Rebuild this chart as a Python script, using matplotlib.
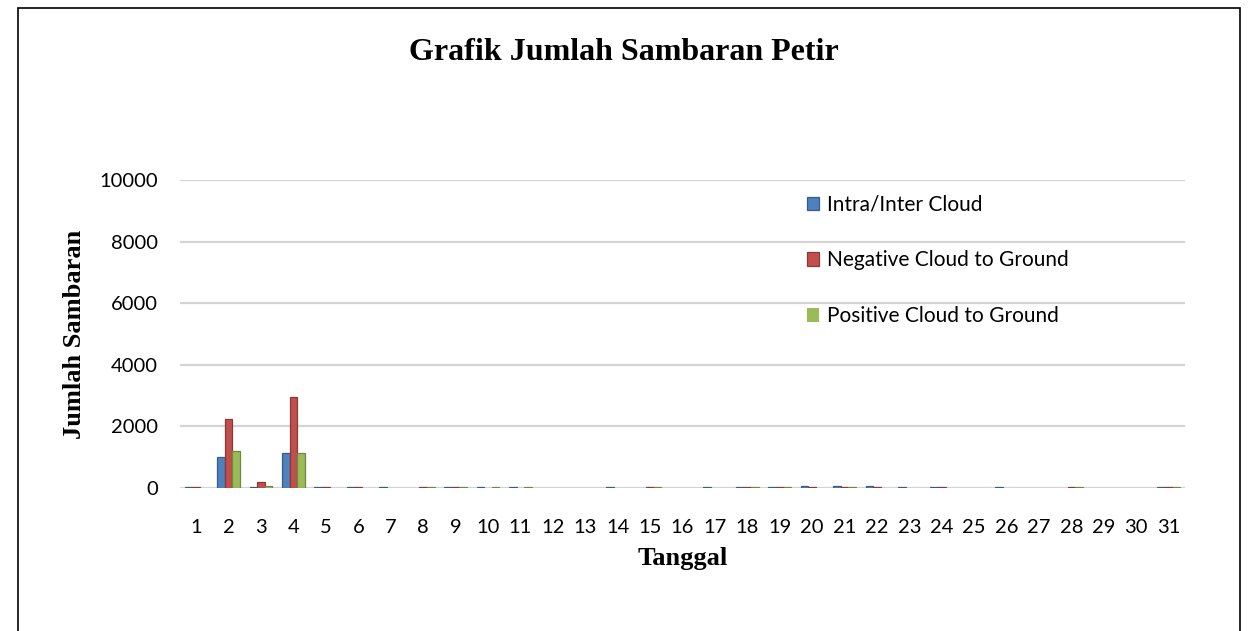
import numpy as np
import matplotlib.pyplot as plt
from matplotlib.patches import Rectangle

days = [str(d) for d in range(1, 32)]

intra = [30, 1000, 40, 1150, 30, 30, 30, 0, 40, 30, 30, 0, 0, 30, 0, 0,
         30, 30, 30, 50, 60, 50, 30, 30, 0, 30, 0, 0, 0, 0, 30]
negative = [30, 2240, 200, 2960, 30, 30, 0, 30, 30, 0, 0, 0, 0, 0, 30, 0,
            0, 30, 30, 40, 40, 30, 0, 30, 0, 0, 0, 30, 0, 0, 30]
positive = [0, 1200, 60, 1150, 0, 0, 0, 30, 30, 20, 20, 0, 0, 0, 20, 0,
            0, 30, 30, 0, 30, 0, 0, 0, 0, 0, 0, 30, 0, 0, 30]

series = [
    ("Intra/Inter Cloud", intra, "#4F81BD", "#385D8A"),
    ("Negative Cloud to Ground", negative, "#C0504D", "#8C3836"),
    ("Positive Cloud to Ground", positive, "#9BBB59", "#71893F"),
]

fig = plt.figure(figsize=(12.48, 6.31), dpi=100)
ax = fig.add_axes([0.1442, 0.2266, 0.8053, 0.4881])

x = np.arange(len(days))
w = 0.235
for i, (name, vals, col, edge) in enumerate(series):
    vals = np.array(vals, dtype=float)
    lw = np.where(vals > 0, 0.9, 0.0)
    ax.bar(x + (i - 1) * w, vals, width=w, color=col, edgecolor=edge,
           linewidth=lw, label=name, zorder=3)

ax.set_xlim(-0.5, len(days) - 0.5)
ax.set_ylim(0, 10000)
ax.set_yticks(range(0, 10001, 2000))
ax.set_xticks(x)
ax.set_xticklabels(days)
for s in ax.spines.values():
    s.set_visible(False)
ax.tick_params(length=0, labelsize=14.5)
ax.tick_params(axis="x", pad=22)
ax.tick_params(axis="y", pad=16)
for lab in ax.get_xticklabels() + ax.get_yticklabels():
    lab.set_family("Lato")
ax.yaxis.grid(True, color="#D4D4D4", linewidth=1.6, zorder=0)
ax.set_axisbelow(True)

ax.set_xlabel("Tanggal", family="Liberation Serif", fontweight="bold",
              fontsize=19)
ax.xaxis.set_label_coords(0.5, -(558 - 488) / 308, transform=ax.transAxes)
ax.xaxis.label.set_va("center")
ax.set_ylabel("Jumlah Sambaran", family="Liberation Serif",
              fontweight="bold", fontsize=19)
ax.yaxis.set_label_coords(-(180 - 75) / 1005, 0.5)
ax.yaxis.label.set_va("center")

fig.text(0.5, 1 - 52 / 631, "Grafik Jumlah Sambaran Petir",
         family="Liberation Serif", fontweight="bold", fontsize=23,
         ha="center", va="center")

leg = ax.legend(loc="upper left", bbox_to_anchor=(792 / 1248, 1 - 180 / 631),
                bbox_transform=fig.transFigure, frameon=False,
                prop={"family": "Lato", "size": 15},
                handlelength=0.6, handleheight=0.6, handletextpad=0.4,
                labelspacing=1.72, borderpad=0.2)

fig.patches.append(Rectangle((18 / 1248, -0.01), 1222 / 1248, 1 - 8 / 631 + 0.01,
                             transform=fig.transFigure, fill=False,
                             edgecolor="black", linewidth=1.2))

fig.savefig("out.png", dpi=100)
